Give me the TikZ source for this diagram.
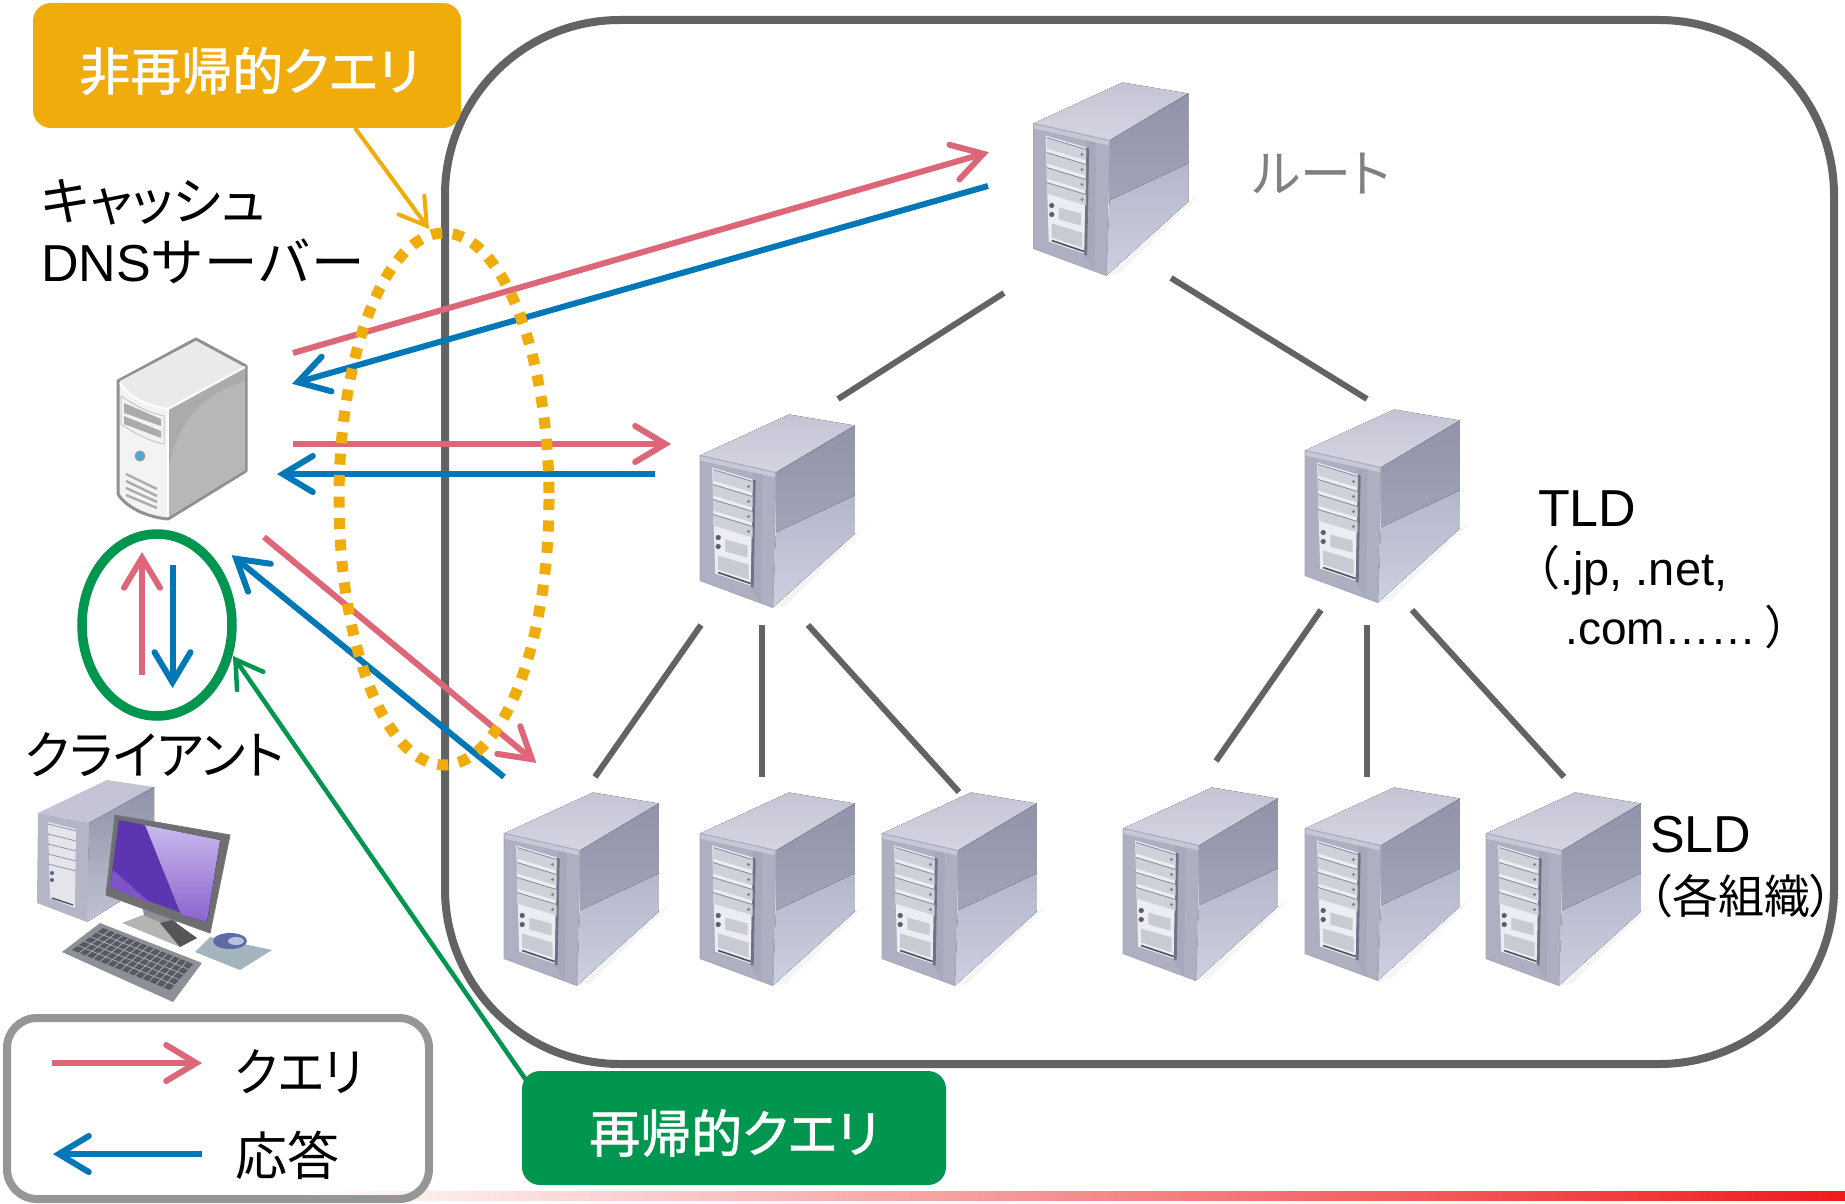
\documentclass[tikz,border=0pt]{standalone}
\usepackage{fontspec}
\usetikzlibrary{arrows.meta,calc}
\setmainfont{Liberation Sans}
\newfontfamily\jp[RawFeature=+palt]{Noto Sans CJK JP}
\newfontfamily\jpn{Noto Sans CJK JP}
\newfontfamily\jpb[RawFeature=+palt,FakeBold=1.4]{Noto Sans CJK JP}
\newcommand{\sz}[1]{\fontsize{#1}{#1}\selectfont}
\definecolor{qred}{HTML}{DD6678}
\definecolor{rblue}{HTML}{0078B8}
\definecolor{gr}{HTML}{009650}
\definecolor{org}{HTML}{EFAC0B}
\definecolor{fram}{HTML}{636363}
\newcommand{\dc}[1]{\definecolor{c#1}{HTML}{#1}}
\dc{C4C4D4}\dc{D4D4E2}\dc{AEB0C2}\dc{A6A9BC}\dc{C6C8D6}\dc{6F7286}\dc{9093A9}\dc{A2A5B8}\dc{B4B7CA}\dc{CDD0E0}\dc{9799AC}\dc{ECEDF2}\dc{CFD1DA}\dc{85879A}\dc{7C8C6A}\dc{5C5F70}\dc{C9CBD4}\dc{4E505E}\dc{A8AABA}\dc{EE1C1C}\dc{F3F3F3}\dc{909090}\dc{EAEAEA}\dc{B7B7B6}\dc{ABABAB}\dc{C8C8C8}\dc{4AA8DC}\dc{999999}\dc{C4C4D6}\dc{8F92A8}\dc{C0C3D4}\dc{B4B6C8}\dc{E3E4EC}\dc{9295A8}\dc{B4B4B2}\dc{555555}\dc{6F6F72}\dc{777777}\dc{5B36B0}\dc{C9B8EC}\dc{8A64D0}\dc{7E55C8}\dc{8E9098}\dc{565862}\dc{A8AAB2}\dc{A3B4BE}\dc{5C6AA8}\dc{B8C0DC}\dc{969696}
\tikzset{
  qline/.style={draw=qred,line width=6pt,shorten >=-3pt,-{Straight Barb[length=30pt,width=36pt,line cap=round]}},
  rline/.style={draw=rblue,line width=6pt,shorten >=-3pt,-{Straight Barb[length=30pt,width=36pt,line cap=round]}},
  tree/.style={draw=fram,line width=6pt},
  lab/.style={inner sep=0pt,anchor=west,text=black},
  srv/.pic={
    \fill[black!10,opacity=.35] (72,152)--(153,78)--(165,70)--(85,150)--cycle;
    \fill[top color=cC4C4D4,bottom color=cD4D4E2] (0,0)--(88,-41)--(153,-30)--(75,17)--cycle;
    \fill[cAEB0C2] (0,0)--(75,17)--(72,152)--(0,125)--cycle;
    \fill[cA6A9BC] (52,12)--(62,14)--(60,148)--(50,132)--cycle;
    \fill[cC6C8D6] (0,0)--(75,17)--(75,22)--(0,5)--cycle;
    \fill[c6F7286] (52,24)--(55,25)--(53,132)--(50,131)--cycle;
    \fill[top color=c9093A9,bottom color=cA2A5B8] (75,17)--(153,-30)--(153,40)--(75,77)--cycle;
    \fill[top color=cB4B7CA,bottom color=cCDD0E0] (75,77)--(153,40)--(153,78)--(72,152)--cycle;
    \draw[c9799AC,line width=1pt] (75,22)--(153,-25);
    \fill[cECEDF2] (12,12)--(52,24)--(50,130)--(15,118)--cycle;
    \foreach \i in {0,1,2,3}{
      \fill[cCFD1DA] (13,{14+15*\i})--(52,{26+15*\i})--(52,{37+15*\i})--(13,{25+15*\i})--cycle;
      \draw[c85879A,line width=.8pt] (13,{14+15*\i})--(52,{26+15*\i});
      \fill[c7C8C6A] (48,{31+15*\i}) circle (1.6);
    }
    \fill[c5C5F70] (18,82) circle (2.6);
    \fill[c5C5F70] (18,91) circle (2.6);
    \fill[cC9CBD4] (25,84)--(47,90)--(47,102)--(25,96)--cycle;
    \fill[cC9CBD4] (18,100)--(48,109)--(48,124)--(18,114)--cycle;
    \draw[c4E505E,line width=1.6pt] (18,117)--(50,128);
    \draw[cA8AABA,line width=1pt] (0,0)--(75,17)--(72,152)--(0,125)--cycle;
  }
}
\begin{document}
\begin{tikzpicture}[x=1pt,y=-1pt,line cap=butt]
\path[use as bounding box] (0,0) rectangle (1845,1204);
\fill[white] (0,0) rectangle (1845,1204);
% bottom strip
\fill[left color=white,right color=cEE1C1C] (300,1191) rectangle (1845,1200);
% frame
\draw[fram,line width=8pt,rounded corners=175pt] (445,20) rectangle (1834,1064);
% server positions
\coordinate (sroot) at (1033.5,123.5);
\coordinate (sa) at (700,455.5);
\coordinate (sb) at (1305,450.5);
\coordinate (s1) at (504,833.5);
\coordinate (s2) at (700,833.5);
\coordinate (s3) at (882,833.5);
\coordinate (s4) at (1123,828.5);
\coordinate (s5) at (1305,828.5);
\coordinate (s6) at (1486,833.5);
\foreach \n in {sroot,sa,sb,s1,s2,s3,s4,s5,s6}{ \pic[xscale=1.012] at (\n) {srv}; }
% tree connector ends
\coordinate (ra1) at (1004,293); \coordinate (ra2) at (838,399);
\coordinate (rb1) at (1171,278); \coordinate (rb2) at (1367,399);
\coordinate (a11) at (701,625); \coordinate (a12) at (595,777);
\coordinate (a21) at (762,625); \coordinate (a22) at (762,777);
\coordinate (a31) at (808,625); \coordinate (a32) at (959,792);
\coordinate (b11) at (1321,610); \coordinate (b12) at (1216,761);
\coordinate (b21) at (1367,625); \coordinate (b22) at (1367,777);
\coordinate (b31) at (1412,610); \coordinate (b32) at (1564,777);
\draw[tree] (ra1)--(ra2);
\draw[tree] (rb1)--(rb2);
\draw[tree] (a11)--(a12);
\draw[tree] (a21)--(a22);
\draw[tree] (a31)--(a32);
\draw[tree] (b11)--(b12);
\draw[tree] (b21)--(b22);
\draw[tree] (b31)--(b32);
% DNS server
\begin{scope}[yshift=-1pt]
\fill[cF3F3F3,draw=c909090,line width=3pt,line join=round] (118,380)--(196,338)--(246,365)--(246,470)--(168,518) .. controls (145,516) and (125,505) .. (118,493)--cycle;
\fill[cEAEAEA] (120,380)--(196,340)--(244,366)--(168,407) .. controls (148,405) and (128,395) .. (120,380)--cycle;
\fill[cB7B7B6] (168,409)--(245,366)--(245,469)--(168,516)--cycle;
\fill[cABABAB] (168,409)--(245,366)--(245,380) .. controls (195,395) and (175,430) .. (168,470)--cycle;
\draw[white,line width=2pt] (120,382) .. controls (128,396) and (148,405) .. (168,408)--(245,366);
\draw[white,line width=2pt] (168,408)--(168,516);
\draw[cC8C8C8,line width=1pt] (121,395) .. controls (135,405) and (150,412) .. (164,415)--(164,443) .. controls (150,440) and (135,433) .. (121,423)--cycle;
\fill[cABABAB] (124,402)--(161,418)--(161,425)--(124,412)--cycle;
\fill[cABABAB] (124,415)--(161,430)--(161,437)--(124,423)--cycle;
\draw[cABABAB,line width=2.4pt] (126,473)--(157,488) (126,480)--(157,495) (126,487)--(157,501) (126,494)--(157,507);
\fill[c4AA8DC,draw=c999999,line width=1pt] (140,455) circle (5);
\end{scope}
% client PC
\fill[cC4C4D6] (38,813)--(107,780)--(154,787)--(89,823)--cycle;
\fill[top color=c8F92A8,bottom color=cC0C3D4] (89,823)--(154,787)--(154,880)--(87,922)--cycle;
\fill[cB4B6C8] (38,813)--(89,823)--(87,922)--(37,903)--cycle;
\fill[cE3E4EC] (48,822)--(76,829)--(75,908)--(50,898)--cycle;
\foreach \i in {0,1,2,3,4}{ \draw[c9295A8,line width=.8pt] (48,{824+10*\i})--(76,{831+10*\i}); }
\fill[c5C5F70] (52,873) circle (2); \fill[c5C5F70] (52,880) circle (2);
\draw[c4E505E,line width=1.4pt] (52,898)--(73,905);
\fill[c8E9098] (142,905)--(178,918)--(172,935)--(146,925)--cycle;
\fill[cB4B4B2] (122,923)--(143,915)--(197,938)--(180,947)--cycle;
\fill[c555555] (160,923)--(172,920)--(197,938)--(180,947)--cycle;
\fill[c6F6F72,draw=c777777,line width=1pt] (115,815)--(230,835)--(210,933)--(106,895)--cycle;
\fill[c5B36B0] (119,820)--(220,840)--(207,922)--(110,887)--cycle;
\fill[top color=cC9B8EC,bottom color=c8A64D0] (145,825)--(220,840)--(207,922)--(181,915)--cycle;
\fill[c7E55C8] (113,870)--(110,887)--(150,903)--cycle;
\fill[c8E9098] (100,923)--(202,963)--(173,1002)--(62,952)--cycle;
\fill[c565862] (103,928)--(193,964)--(170,990)--(72,950)--cycle;
\foreach \i in {1,...,4}{ \draw[cA8AAB2,line width=.8pt] ($(103,928)!\i/5!(72,950)$)--($(193,964)!\i/5!(170,990)$); }
\foreach \i in {1,...,13}{ \draw[cA8AAB2,line width=.8pt] ($(103,928)!\i/14!(193,964)$)--($(72,950)!\i/14!(170,990)$); }
\fill[cA3B4BE] (210,937)--(272,950)--(240,970)--(195,952)--cycle;
\fill[c5C6AA8] (230,941) ellipse (17 and 8);
\fill[cB8C0DC] (236,941) ellipse (8 and 4);
% arrow ends
\coordinate (q1a) at (293,353); \coordinate (q1b) at (986,153);
\coordinate (r1a) at (988,186); \coordinate (r1b) at (295,383);
\coordinate (q2a) at (293,444); \coordinate (q2b) at (668,444);
\coordinate (r2a) at (655,474); \coordinate (r2b) at (280,474);
\coordinate (q3a) at (264,537); \coordinate (q3b) at (534,761);
\coordinate (r3a) at (504,777); \coordinate (r3b) at (234,557);
\coordinate (q4a) at (142,675); \coordinate (q4b) at (142,555);
\coordinate (r4a) at (172.5,565); \coordinate (r4b) at (172.5,685);
\draw[qline] (q1a)--(q1b);
\draw[rline] (r1a)--(r1b);
\draw[qline] (q2a)--(q2b);
\draw[rline] (r2a)--(r2b);
\draw[qline] (q3a)--(q3b);
\draw[rline] (r3a)--(r3b);
\draw[qline] (q4a)--(q4b);
\draw[rline] (r4a)--(r4b);
% ellipses
\draw[gr,line width=9.5pt] (157,625) ellipse (75 and 91);
\draw[org,line width=11pt,dash pattern=on 11pt off 10.5pt] (444,499) ellipse (105 and 266);
% callouts
\node[fill=org,rounded corners=18pt,minimum width=428pt,minimum height=125pt,inner sep=0pt] (nonrec) at (247,65.5) {};
\node[inner sep=0pt,text=white] (nonrect) at (249.5,71) {\jpb\sz{51}非再帰的クエリ};
\node[fill=gr,rounded corners=18pt,minimum width=424pt,minimum height=114pt,inner sep=0pt] (rec) at (734,1128) {};
\node[inner sep=0pt,text=white] (rect) at (734,1133) {\jpb\sz{51}再帰的クエリ};
\coordinate (c1a) at (355,128); \coordinate (c1b) at (429,229);
\coordinate (c2a) at (526,1080); \coordinate (c2b) at (233,656);
\draw[org,line width=4pt,-{Straight Barb[length=26pt,width=32pt,line cap=round]}] (c1a)--(c1b);
\draw[gr,line width=4.5pt,-{Straight Barb[length=26pt,width=32pt,line cap=round]}] (c2a)--(c2b);
% texts
\node[lab] (t1) at (41,202) {\jp\sz{52}キャッシュ};
\node[lab] (t2) at (41,261) {\sz{52}DNS\jpn\scalebox{1.03}[1]{サーバー}};
\node[lab] (t3) at (25,755) {\jp\sz{52}\scalebox{.96}[1]{クライアント}};
\node[lab,text=black!50] (t4) at (1253,174) {\jp\sz{51}ルート};
\node[lab] (t5) at (1538,509) {\sz{52}TLD};
\node[lab] (t6) at (1513,570) {\sz{47}{\jpn（}.jp, .net,};
\node[lab] (t7) at (1565,627) {\sz{46}.com……\hspace{8pt}{\jpn）}};
\node[lab] (t8) at (1650,835) {\sz{52}SLD};
\node[lab] (t9) at (1649,896) {\jp\sz{46}（各組織）};
% legend
\draw[c969696,line width=8pt,rounded corners=30pt] (7,1018) rectangle (429,1199);
\coordinate (lq1) at (52,1063); \coordinate (lq2) at (199,1063);
\coordinate (lr1) at (202,1154); \coordinate (lr2) at (56,1154);
\draw[qline] (lq1)--(lq2);
\draw[rline] (lr1)--(lr2);
\node[lab] (t10) at (235,1072) {\jp\sz{52}\scalebox{.92}[1]{クエリ}};
\node[lab] (t11) at (235,1155) {\jp\sz{52}応答};
\end{tikzpicture}
\end{document}
